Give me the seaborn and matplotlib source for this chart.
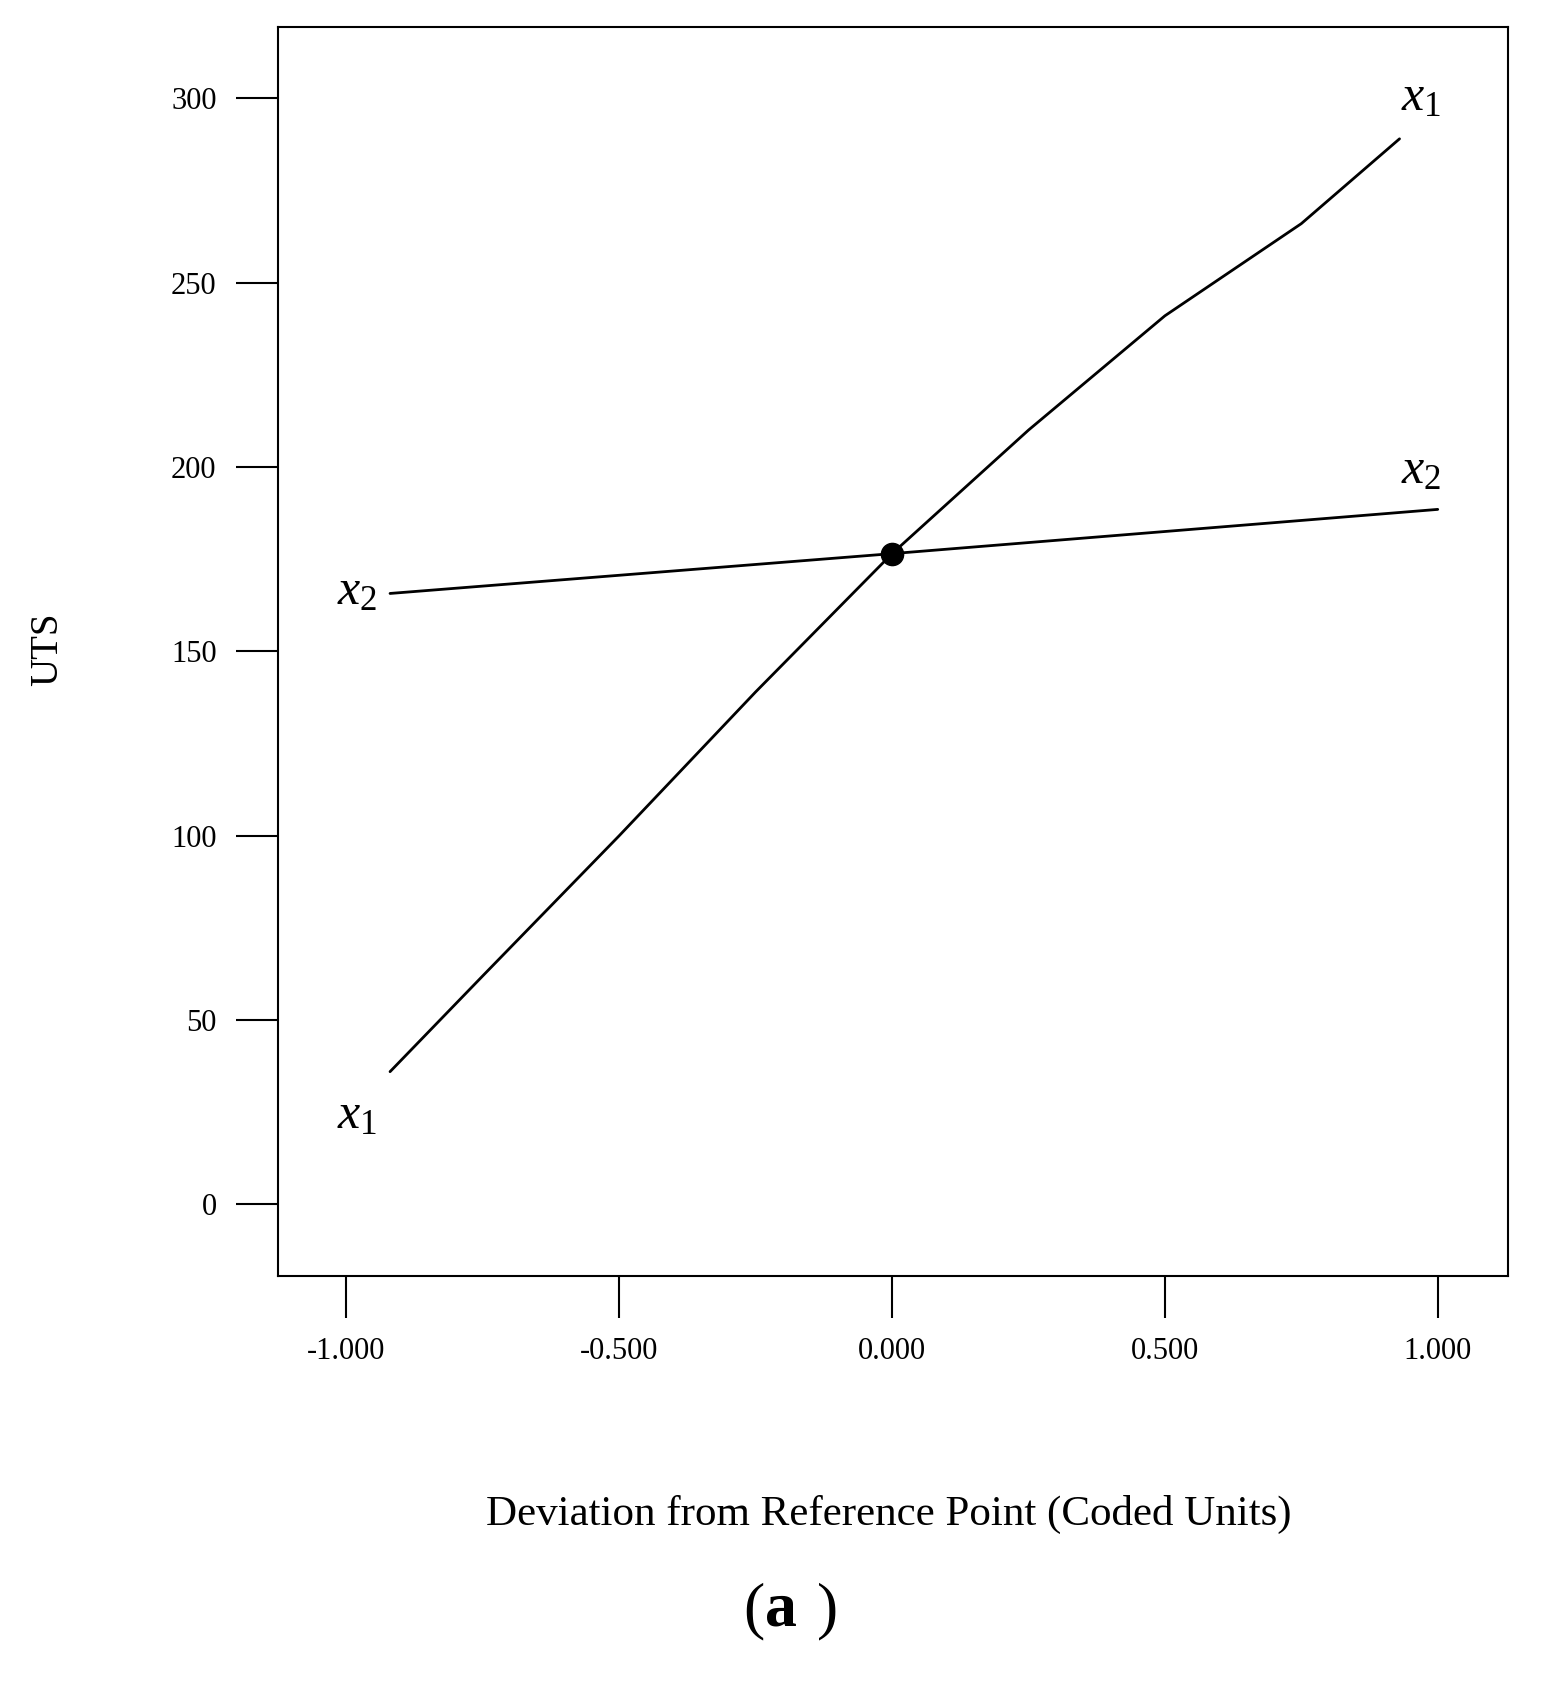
import matplotlib
matplotlib.use("Agg")
import matplotlib.pyplot as plt
import seaborn as sns
import pandas as pd

sns.set_theme(style="white")
plt.rcParams['font.family'] = ['Liberation Serif', 'DejaVu Serif']
plt.rcParams['mathtext.fontset'] = 'custom'
plt.rcParams['mathtext.it'] = 'Liberation Serif:italic'
plt.rcParams['mathtext.rm'] = 'Liberation Serif'
plt.rcParams['mathtext.bf'] = 'Liberation Serif:bold'
plt.rcParams['text.color'] = 'black'
plt.rcParams['xtick.color'] = 'black'
plt.rcParams['ytick.color'] = 'black'

x1_dev = [-0.92, -0.75, -0.5, -0.25, 0.0, 0.25, 0.5, 0.75, 0.93]
x1_uts = [36, 62, 100, 139, 176.5, 210, 241, 266, 289]
x2_dev = [-0.92, 0.0, 1.0]
x2_uts = [165.7, 176.5, 188.5]
ref_x, ref_y = 0.0, 176.5
xticks = [-1.0, -0.5, 0.0, 0.5, 1.0]
xtick_labels = ["-1.000", "-0.500", "0.000", "0.500", "1.000"]
yticks = [0, 50, 100, 150, 200, 250, 300]

fig = plt.figure(figsize=(15.51, 16.94), dpi=100)
ax = fig.add_axes([0.179, 0.247, 0.793, 0.737])
sns.lineplot(data=pd.DataFrame({"x": x1_dev, "y": x1_uts}), x="x", y="y", ax=ax, color="black", lw=2)
sns.lineplot(data=pd.DataFrame({"x": x2_dev, "y": x2_uts}), x="x", y="y", ax=ax, color="black", lw=2)
ax.plot([ref_x], [ref_y], 'o', color='black', ms=16)

ax.set_xlim(-1.126, 1.128)
ax.set_ylim(-19.3, 319.3)
ax.set_xticks(xticks)
ax.set_xticklabels(xtick_labels)
ax.set_yticks(yticks)
ax.tick_params(axis='both', direction='out', length=30, width=1.5, color='black',
               labelsize=22, labelcolor='black', pad=14, left=True, bottom=True)
for s in ax.spines.values():
    s.set_color('black'); s.set_linewidth(1.5)
ax.set_xlabel(""); ax.set_ylabel("")

lab = dict(fontsize=36, color='black', ha='center', va='center')
ax.text(-0.98, 24, r'$\mathit{x}_{\mathit{1}}$', **lab)
ax.text(0.97, 300, r'$\mathit{x}_{\mathit{1}}$', **lab)
ax.text(-0.98, 166, r'$\mathit{x}_{\mathit{2}}$', **lab)
ax.text(0.97, 199, r'$\mathit{x}_{\mathit{2}}$', **lab)

fig.text(0.031, 0.617, "UTS", rotation=90, fontsize=28, ha='center', va='center', color='black')
fig.text(0.573, 0.106, "Deviation from Reference Point (Coded Units)", fontsize=31,
         ha='center', va='center', color='black')
fig.text(0.493, 0.049, "(", fontsize=46, ha='right', va='center', color='black')
fig.text(0.493, 0.049, "a", fontsize=46, ha='left', va='center', color='black', fontweight='bold')
fig.text(0.5265, 0.049, ")", fontsize=46, ha='left', va='center', color='black')
fig.savefig("out.png", dpi=100)
